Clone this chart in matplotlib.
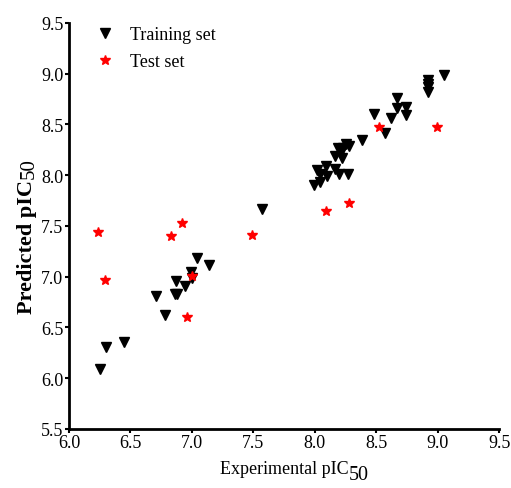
import matplotlib
matplotlib.use("Agg")
import matplotlib.pyplot as plt

plt.rcParams['font.family'] = ['Liberation Serif', 'DejaVu Serif']

# training set (experimental, predicted)
train_exp = [6.25, 6.30, 6.45, 6.71, 6.78, 6.87, 6.86, 6.88, 6.94, 6.99, 7.00,
             7.04, 7.14, 7.57,
             7.99, 8.04, 8.02, 8.04, 8.10, 8.09, 8.16, 8.20, 8.27, 8.16, 8.22,
             8.19, 8.21, 8.23, 8.25, 8.28, 8.38, 8.48, 8.57, 8.62, 8.67, 8.67,
             8.74, 8.74, 8.92, 8.92, 8.92, 8.92, 9.05]
train_pred = [6.09, 6.31, 6.36, 6.81, 6.62, 6.96, 6.83, 6.83, 6.91, 7.05, 6.99,
              7.18, 7.11, 7.67,
              7.90, 7.93, 8.05, 8.01, 7.99, 8.09, 8.06, 8.01, 8.01, 8.19, 8.17,
              8.27, 8.24, 8.27, 8.31, 8.29, 8.35, 8.60, 8.42, 8.56, 8.76, 8.66,
              8.67, 8.59, 8.94, 8.90, 8.87, 8.82, 8.99]

# test set
test_exp = [6.24, 6.29, 6.83, 6.92, 7.00, 6.96, 7.49, 8.09, 8.28, 8.52, 8.99]
test_pred = [7.44, 6.97, 7.40, 7.53, 7.01, 6.60, 7.41, 7.65, 7.73, 8.47, 8.47]

x_ticks = [6.0, 6.5, 7.0, 7.5, 8.0, 8.5, 9.0, 9.5]
y_ticks = [5.5, 6.0, 6.5, 7.0, 7.5, 8.0, 8.5, 9.0, 9.5]

fig = plt.figure(figsize=(5.11, 4.89), dpi=100)
ax = fig.add_axes([0.135, 0.121, 0.842, 0.830])

ax.plot(train_exp, train_pred, linestyle='none', marker='v', color='black',
        markersize=7.5, label='Training set')
ax.plot(test_exp, test_pred, linestyle='none', marker='*', color='red',
        markersize=7, label='Test set')

ax.set_xlim(6.0, 9.5)
ax.set_ylim(5.5, 9.5)
ax.set_xticks(x_ticks)
ax.set_yticks(y_ticks)
ax.set_xticklabels([f"{t:.1f}" for t in x_ticks])
ax.set_yticklabels([f"{t:.1f}" for t in y_ticks])
ax.tick_params(labelsize=13, length=3, width=1.5, pad=1, direction='out')

for side in ['top', 'right']:
    ax.spines[side].set_visible(False)
for side in ['left', 'bottom']:
    ax.spines[side].set_linewidth(2)

# axis labels with a big "50" subscript, like the original
xl = ax.set_xlabel('Experimental pIC', fontsize=13, labelpad=6)
xl.set_x(0.5)
ax.annotate('50', xy=(1, 0), xycoords=xl, xytext=(0.5, -5),
            textcoords='offset points', ha='left', va='bottom', fontsize=14.5)

yl = ax.set_ylabel('Predicted pIC', fontsize=16, fontweight='bold', labelpad=3)
yl.set_y(0.45)
ax.annotate('50', xy=(1, 1), xycoords=yl, xytext=(1.5, 0.5),
            textcoords='offset points', ha='right', va='bottom', fontsize=15,
            rotation=90)

ax.legend(loc='upper left', bbox_to_anchor=(0.021, 1.032), frameon=False,
          fontsize=13, handletextpad=0.8, labelspacing=0.55, handlelength=1.2)

fig.savefig('out.png', dpi=100)
